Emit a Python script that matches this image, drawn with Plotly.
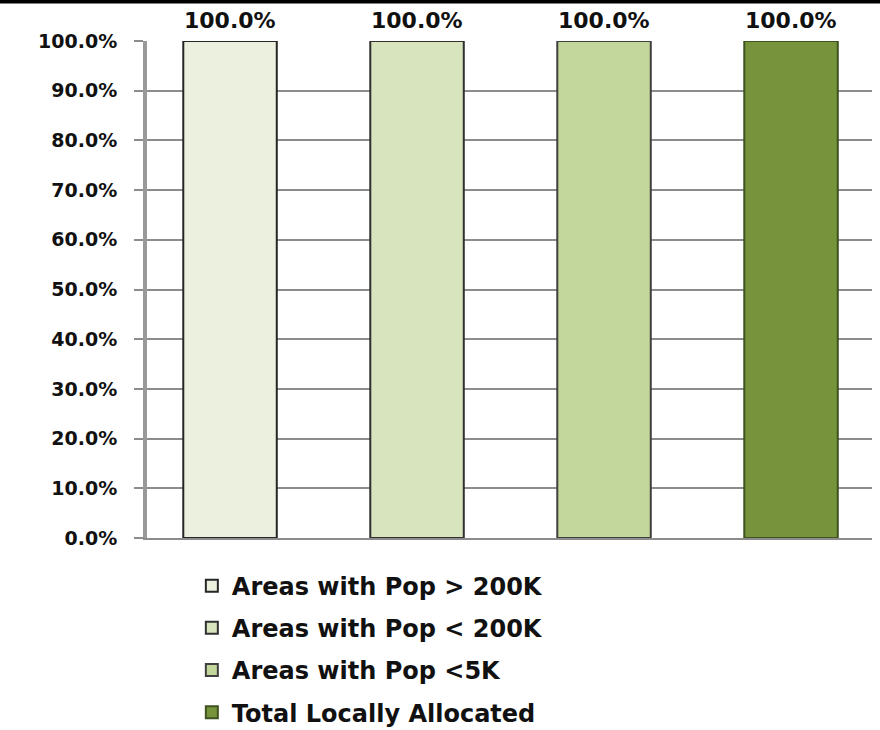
import plotly.graph_objects as go

# ---- data ----
series_names = [
    "Areas with Pop > 200K",
    "Areas with Pop < 200K",
    "Areas with Pop <5K",
    "Total Locally Allocated",
]
categories = ["A", "B", "C", "D"]
values = [1.0, 1.0, 1.0, 1.0]
bar_colors = ["#EBF1DE", "#D7E4BD", "#C3D69B", "#77933C"]
edge_colors = ["#262626", "#303030", "#404040", "#3F5220"]
y_ticks = [i / 10 for i in range(11)]

FONT = "DejaVu Sans"

fig = go.Figure()
for i, name in enumerate(series_names):
    fig.add_trace(go.Bar(
        x=[categories[i]],
        y=[values[i]],
        name=name,
        width=0.5,
        marker=dict(color=bar_colors[i], line=dict(color=edge_colors[i], width=2)),
        legendgroup=f"g{i}",
        showlegend=True,
    ))
    fig.add_annotation(
        x=categories[i], y=values[i],
        text=f"{values[i]*100:.1f}%",
        showarrow=False, yanchor="bottom", yshift=6,
        font=dict(family=FONT, size=22, color="#111111", weight="bold"),
    )

# top black border line
fig.add_shape(type="line", xref="paper", yref="paper",
              x0=-0.25, x1=1.05, y0=1.0795, y1=1.0795,
              line=dict(color="#000000", width=4))

fig.update_layout(
    width=880, height=730,
    margin=dict(l=147, r=8, t=41, b=192, autoexpand=False),
    paper_bgcolor="white", plot_bgcolor="white",
    barmode="overlay",
    showlegend=True,
    legend=dict(
        xref="container", yref="container",
        x=0.218, xanchor="left", y=0.228, yanchor="top",
        font=dict(family=FONT, size=24, color="#111111", weight="bold"),
        tracegroupgap=8,
        bgcolor="rgba(0,0,0,0)",
    ),
    xaxis=dict(
        type="category",
        categoryorder="array", categoryarray=categories,
        range=[-0.444, 3.433],
        showticklabels=False, showgrid=False, ticks="",
        showline=True, linecolor="#8c8c8c", linewidth=2,
        zeroline=False,
    ),
    yaxis=dict(
        range=[0, 1],
        tickvals=y_ticks,
        tickformat=".1%",
        showgrid=True, gridcolor="#8c8c8c", gridwidth=1.5,
        showline=True, linecolor="#999999", linewidth=4,
        ticks="outside", ticklen=9, tickwidth=2, tickcolor="#8c8c8c",
        ticklabelstandoff=13,
        zeroline=False,
        tickfont=dict(family=FONT, size=19, color="#111111", weight="bold"),
    ),
)

fig.write_html(
    "out.html",
    config={"displayModeBar": False},
    post_script="document.body.style.margin='0px';document.body.style.overflow='hidden';",
)
